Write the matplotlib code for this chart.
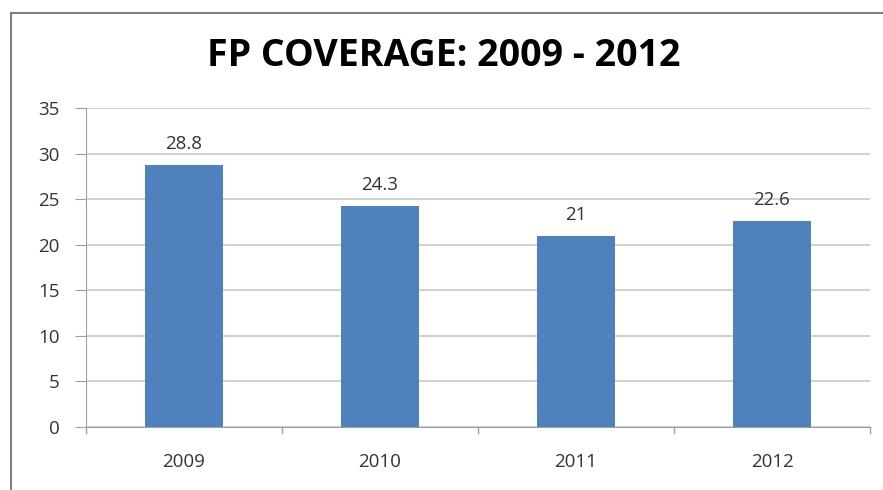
import matplotlib
matplotlib.use("Agg")
import matplotlib.pyplot as plt
from matplotlib.lines import Line2D

years = ["2009", "2010", "2011", "2012"]
coverage = [28.8, 24.3, 21, 22.6]
y_ticks = [0, 5, 10, 15, 20, 25, 30, 35]

W, H = 883, 490
fig = plt.figure(figsize=(W / 100, H / 100), dpi=100)
fig.patch.set_facecolor("white")

# plot area in pixel coordinates
left, right, top, bottom = 86, 870, 108, 427
ax = fig.add_axes([left / W, 1 - bottom / H, (right - left) / W, (bottom - top) / H])

x = range(len(years))
ax.bar(x, coverage, width=0.4, color="#4F81BD", zorder=3)
ax.set_xlim(-0.5, len(years) - 0.5)
ax.set_ylim(0, 35)
ax.set_yticks(y_ticks)
ax.set_xticks(list(x))
ax.set_xticklabels(years)

font = "Open Sans"
label_size = 13.5
for lbl in ax.get_yticklabels() + ax.get_xticklabels():
    lbl.set_fontfamily(font)
    lbl.set_fontsize(label_size)
    lbl.set_color("#333333")

ax.yaxis.grid(True, color="#C8C8C8", linewidth=1.2, zorder=0)
ax.set_axisbelow(True)
for side in ["top", "right"]:
    ax.spines[side].set_visible(False)
ax.spines["left"].set_color("#A0A0A0")
ax.spines["bottom"].set_color("#A0A0A0")
ax.tick_params(axis="y", length=8, color="#A0A0A0", pad=11)
ax.tick_params(axis="x", length=0, pad=19)

# category boundary ticks below the x axis
for b in [-0.5, 0.5, 1.5, 2.5, 3.5]:
    ax.plot([b, b], [0, -0.7], color="#A0A0A0", lw=1, clip_on=False)

for xi, v in zip(x, coverage):
    ax.annotate(f"{v:g}", (xi, v), xytext=(0, 11.5), textcoords="offset points",
                ha="center", va="baseline", fontsize=label_size, family=font,
                color="#333333")

fig.text(444 / W, 1 - 56 / H, "FP COVERAGE: 2009 - 2012", ha="center", va="center",
         fontsize=27, fontweight="bold", family=font, color="black")

# chart frame edges
fig.add_artist(Line2D([11 / W, 11 / W], [1 - 13 / H, 0], color="#808080", lw=1.5,
                      transform=fig.transFigure))
fig.add_artist(Line2D([11 / W, 1], [1 - 13 / H, 1 - 13 / H], color="#808080", lw=1.5,
                      transform=fig.transFigure))

fig.savefig("out.png", dpi=100)
